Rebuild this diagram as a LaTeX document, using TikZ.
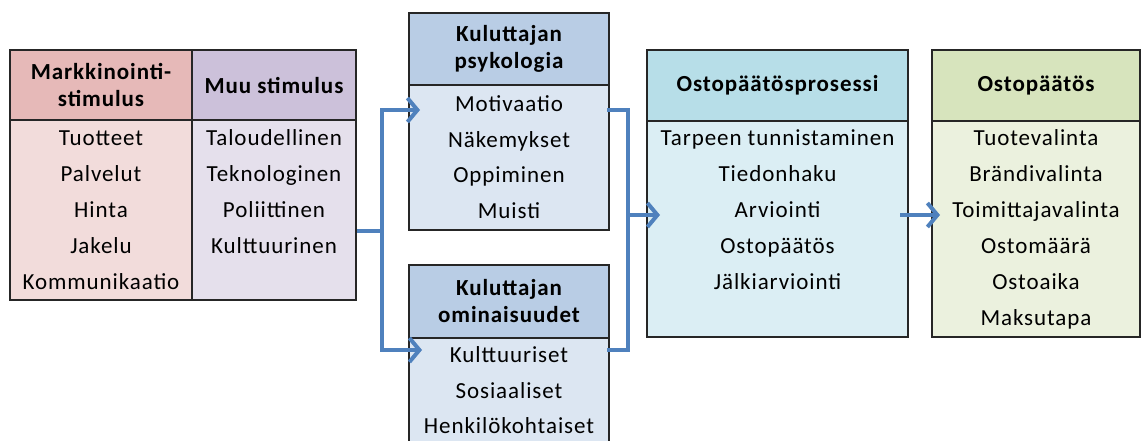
\documentclass[tikz,border=0pt]{standalone}
\usepackage{fontspec}
\setmainfont{Carlito}[LetterSpace=4]
\usetikzlibrary{arrows.meta}
\definecolor{mkhead}{HTML}{E6B9B8}
\definecolor{mkbody}{HTML}{F2DCDB}
\definecolor{muhead}{HTML}{CCC1DA}
\definecolor{mubody}{HTML}{E5E0EC}
\definecolor{kuhead}{HTML}{B9CDE5}
\definecolor{kubody}{HTML}{DCE6F2}
\definecolor{prhead}{HTML}{B7DEE8}
\definecolor{prbody}{HTML}{DBEEF4}
\definecolor{ophead}{HTML}{D7E4BD}
\definecolor{opbody}{HTML}{EBF1DE}
\definecolor{flowblue}{HTML}{4F81BD}
\definecolor{edge}{HTML}{262626}
\begin{document}
\begin{tikzpicture}[x=1pt, y=-1pt,
    box/.style={draw=edge, line width=2pt, rectangle, inner sep=0pt},
    hd/.style={box, align=center, font=\fontsize{23}{27}\selectfont\bfseries},
    item/.style={font=\fontsize{23}{27}\selectfont, text height=15pt, text depth=4pt, inner sep=0pt},
    flow/.style={draw=flowblue, line width=4pt},
    tip/.style={flow, -{Straight Barb[length=10pt, width=24pt]}}]
    \useasboundingbox (0,0) rectangle (1142,441);
    \clip (0,0) rectangle (1142,441);
    \node[box, fill=mkbody, minimum width=182pt, minimum height=180pt] (mkb) at (101,210) {};
    \node[hd, fill=mkhead, minimum width=182pt, minimum height=70pt] (mkh) at (101,85) {Markkinointi-\\stimulus};
    \node[box, fill=mubody, minimum width=164pt, minimum height=180pt] (mub) at (274,210) {};
    \node[hd, fill=muhead, minimum width=164pt, minimum height=70pt] (muh) at (274,85) {Muu stimulus};
    \node[box, fill=kubody, minimum width=200pt, minimum height=145pt] (psb) at (509,157.5) {};
    \node[hd, fill=kuhead, minimum width=200pt, minimum height=72pt] (psh) at (509,49) {Kuluttajan\\psykologia};
    \node[box, fill=kubody, minimum width=200pt, minimum height=124pt] (omb) at (509,400) {};
    \node[hd, fill=kuhead, minimum width=200pt, minimum height=73pt] (omh) at (509,301.5) {Kuluttajan\\ominaisuudet};
    \node[box, fill=prbody, minimum width=261pt, minimum height=216pt] (prb) at (777.5,229) {};
    \node[hd, fill=prhead, minimum width=261pt, minimum height=71pt] (prh) at (777.5,85.5) {Ostopäätösprosessi};
    \node[box, fill=opbody, minimum width=208pt, minimum height=216pt] (opb) at (1036,229) {};
    \node[hd, fill=ophead, minimum width=208pt, minimum height=71pt] (oph) at (1036,85.5) {Ostopäätös};
    \foreach \t [count=\i] in {Tuotteet,Palvelut,Hinta,Jakelu,Kommunikaatio}
        \node[item] (mk\i) at (101,104+36*\i) {\t};
    \foreach \t [count=\i] in {Taloudellinen,Teknologinen,Poliittinen,Kulttuurinen}
        \node[item] (mu\i) at (274,104+36*\i) {\t};
    \foreach \t [count=\i] in {Motivaatio,Näkemykset,Oppiminen,Muisti}
        \node[item] (ps\i) at (509,70.5+35.5*\i) {\t};
    \foreach \t [count=\i] in {Kulttuuriset,Sosiaaliset,Henkilökohtaiset}
        \node[item] (om\i) at (509,321.5+35.5*\i) {\t};
    \foreach \t [count=\i] in {Tarpeen tunnistaminen,Tiedonhaku,Arviointi,Ostopäätös,Jälkiarviointi}
        \node[item] (pr\i) at (777.5,104+36*\i) {\t};
    \foreach \t [count=\i] in {Tuotevalinta,Brändivalinta,Toimittajavalinta,Ostomäärä,Ostoaika,Maksutapa}
        \node[item] (op\i) at (1036,104+36*\i) {\t};
    \coordinate (stim) at (mub.east |- 0,231);
    \coordinate (split) at (382,231);
    \coordinate (inps) at (420,110);
    \coordinate (inom) at (422,350);
    \coordinate (outps) at (607,110);
    \coordinate (outom) at (607,350);
    \coordinate (join) at (628,215);
    \coordinate (inpr) at (660,215);
    \coordinate (outpr) at (900,215);
    \coordinate (inop) at (940,215);
    \draw[flow] (stim) -- (split);
    \draw[tip] (split) |- (inps);
    \draw[tip] (split) |- (inom);
    \draw[flow] (outps) -| (join) |- (outom);
    \draw[tip] (join) -- (inpr);
    \draw[tip] (outpr) -- (inop);
\end{tikzpicture}
\end{document}
